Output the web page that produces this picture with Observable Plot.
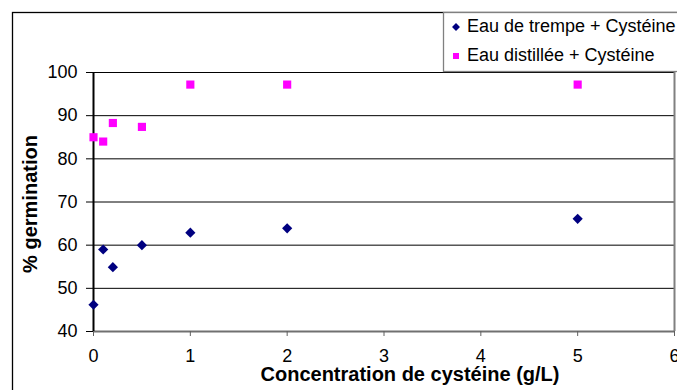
<!DOCTYPE html>
<html>
<head>
<meta charset="utf-8">
<script src="https://cdn.jsdelivr.net/npm/d3@7"></script>
<script src="https://cdn.jsdelivr.net/npm/@observablehq/plot@0.6"></script>
<style>
  html, body { margin: 0; padding: 0; background: #fff; }
  #chart { width: 677px; height: 390px; overflow: hidden; }
</style>
</head>
<body>
<div id="chart"></div>
<script>
const concentrations = [0, 0.1, 0.2, 0.5, 1, 2, 5];
const trempe = [46.2, 59.0, 54.9, 60.0, 62.9, 63.9, 66.1];
const distillee = [85.0, 84.0, 88.3, 87.4, 97.2, 97.2, 97.2];
const seriesNames = ["Eau de trempe + Cystéine", "Eau distillée + Cystéine"];
const seriesColors = ["#000080", "#ff00ff"];
const xTicks = [0, 1, 2, 3, 4, 5, 6];
const yTicks = [40, 50, 60, 70, 80, 90, 100];
const gridValues = [50, 60, 70, 80, 90, 100];
const xTitle = "Concentration de cystéine (g/L)";
const yTitle = "% germination";

const rows = [];
concentrations.forEach((c, i) => {
  rows.push({x: c, y: trempe[i], s: seriesNames[0]});
  rows.push({x: c, y: distillee[i], s: seriesNames[1]});
});

const font = "'Liberation Sans', Arial, sans-serif";

const chart = Plot.plot({
  width: 677,
  height: 390,
  marginLeft: 93,
  marginRight: 3,
  marginTop: 72,
  marginBottom: 59,
  style: {fontFamily: font, fontSize: "18px", background: "#fff", color: "#000"},
  x: {domain: [0, 6]},
  y: {domain: [40, 100]},
  marks: [
    Plot.ruleY(gridValues, {stroke: "#000", strokeWidth: 1}),
    Plot.ruleX([6], {stroke: "#808080", strokeWidth: 2}),
    Plot.ruleY([40], {stroke: "#707070", strokeWidth: 2}),
    Plot.ruleX([0], {stroke: "#000", strokeWidth: 2}),
    Plot.axisY({ticks: yTicks, tickSize: 7, tickPadding: 9, label: null, fontSize: 18, stroke: "#000", tickFormat: d => String(d)}),
    Plot.axisX({ticks: xTicks, tickSize: 5, tickPadding: 13, label: null, fontSize: 18, stroke: "#606060", tickFormat: d => String(d)}),
    Plot.dot(rows.filter(d => d.s === seriesNames[0]), {x: "x", y: "y", symbol: "diamond2", r: 4.6, fill: seriesColors[0], stroke: "none"}),
    Plot.dot(rows.filter(d => d.s === seriesNames[1]), {x: "x", y: "y", symbol: "square", r: 4.6, fill: seriesColors[1], stroke: "none"})
  ]
});

const svg = d3.select(chart);
// outer chart border
svg.insert("rect", ":first-child")
  .attr("x", 12.5).attr("y", 12.5).attr("width", 700).attr("height", 400)
  .attr("fill", "#fff").attr("stroke", "#000").attr("stroke-width", 1.3);

// axis titles
svg.append("text")
  .attr("x", 410).attr("y", 376)
  .attr("text-anchor", "middle").attr("dominant-baseline", "middle")
  .attr("font-family", font).attr("font-size", 20).attr("font-weight", "bold")
  .text(xTitle);
svg.append("text")
  .attr("transform", "translate(32,204) rotate(-90)")
  .attr("text-anchor", "middle").attr("dominant-baseline", "middle")
  .attr("font-family", font).attr("font-size", 20).attr("font-weight", "bold")
  .text(yTitle);

// legend
const lg = svg.append("g").attr("text-anchor", "start");
lg.append("rect")
  .attr("x", 443.5).attr("y", 12.5).attr("width", 260).attr("height", 59)
  .attr("fill", "#fff").attr("stroke", "#808080").attr("stroke-width", 1.3);
const symbols = [d3.symbolDiamond2, d3.symbolSquare];
const legendY = [27, 56];
seriesNames.forEach((name, i) => {
  lg.append("path")
    .attr("transform", `translate(456,${legendY[i]})`)
    .attr("d", d3.symbol(symbols[i], i === 0 ? 40 : 36)())
    .attr("fill", seriesColors[i]);
  lg.append("text")
    .attr("x", 467).attr("y", legendY[i])
    .attr("text-anchor", "start")
    .attr("dominant-baseline", "middle")
    .attr("font-family", font).attr("font-size", 18)
    .text(name);
});

document.getElementById("chart").appendChild(chart);
</script>
</body>
</html>
